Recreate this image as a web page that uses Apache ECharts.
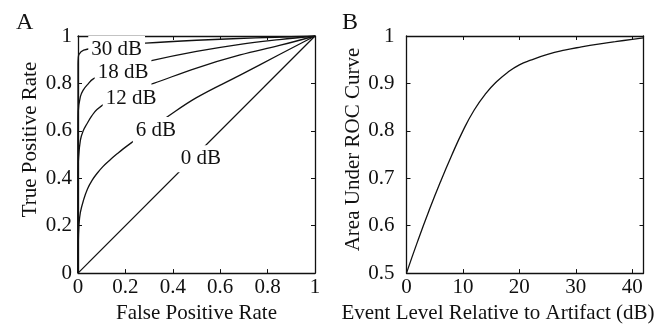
<!DOCTYPE html>
<html>
<head>
<meta charset="utf-8">
<script src="https://cdn.jsdelivr.net/npm/echarts@6/dist/echarts.min.js"></script>
<style>
  html, body { margin: 0; padding: 0; background: #fff; }
  #chart { width: 671px; height: 329px; }
</style>
</head>
<body>
<div id="chart"></div>
<script>
// ---------------------------------------------------------------------------
// Data
// ---------------------------------------------------------------------------

// Panel A: ROC curves, [false positive rate, true positive rate]
const roc0dB = [[0, 0], [1, 1]];
const roc6dB = [
  [0, 0], [0.001, 0.12], [0.004, 0.2], [0.01, 0.256], [0.024, 0.31],
  [0.04, 0.355], [0.06, 0.392], [0.08, 0.42], [0.105, 0.449], [0.136, 0.478],
  [0.165, 0.503], [0.192, 0.525], [0.25, 0.568], [0.31, 0.612],
  [0.368, 0.653], [0.5, 0.74], [0.684, 0.835], [0.85, 0.922], [1, 1],
];
const roc12dB = [
  [0, 0], [0, 0.4], [0.002, 0.48], [0.01, 0.56], [0.022, 0.6], [0.038, 0.63],
  [0.058, 0.663], [0.08, 0.69], [0.122, 0.72], [0.2, 0.76], [0.319, 0.8],
  [0.5, 0.865], [0.684, 0.92], [0.85, 0.96], [1, 1],
];
const roc18dB = [
  [0, 0], [0, 0.62], [0.001, 0.68], [0.01, 0.744], [0.022, 0.772],
  [0.038, 0.793], [0.066, 0.82], [0.15, 0.855], [0.305, 0.895], [0.5, 0.935],
  [0.684, 0.965], [0.85, 0.985], [1, 1],
];
const roc30dB = [
  [0, 0], [0, 0.88], [0.001, 0.905], [0.004, 0.922], [0.024, 0.94],
  [0.1, 0.955], [0.284, 0.97], [0.5, 0.982], [0.75, 0.992], [1, 1],
];

// inline curve labels and where they sit
const curveLabels = ["30 dB", "18 dB", "12 dB", "6 dB", "0 dB"];
const curveLabelAt = [
  [0.163, 0.943], [0.19, 0.846], [0.224, 0.737], [0.329, 0.601], [0.519, 0.482],
];

// Panel B: area under ROC curve vs event level (dB)
const eventLevel = [0, 2, 4, 6, 8, 10, 12, 14, 16, 18, 20, 22, 25, 28, 31, 34, 37, 40, 42];
const aucValues = [
  0.5, 0.568, 0.632, 0.692, 0.748, 0.8, 0.844, 0.878, 0.904, 0.924,
  0.939, 0.949, 0.961, 0.97, 0.977, 0.983, 0.988, 0.993, 0.996,
];

// ---------------------------------------------------------------------------
// Styles
// ---------------------------------------------------------------------------
const FONT = "Liberation Serif";
const INK = "#111";

const textStyle = { fontFamily: FONT, fontSize: 21, color: INK };

const baseAxis = (extra) => ({
  type: "value",
  axisLine: { show: true, onZero: false, lineStyle: { color: INK, width: 1.3 } },
  axisTick: { show: true, inside: true, length: 4, lineStyle: { color: INK, width: 1 } },
  splitLine: { show: false },
  ...extra,
});

const mirrorAxis = (extra) =>
  baseAxis({ axisLabel: { show: false }, ...extra });

const curve = (data) => ({
  type: "line",
  xAxisIndex: 0,
  yAxisIndex: 0,
  data,
  symbol: "none",
  smooth: 0.4,
  lineStyle: { color: INK, width: 1.3 },
  z: 2,
  silent: true,
});

const chart = echarts.init(document.getElementById("chart"), null, { renderer: "canvas" });

const option = {
  animation: false,
  backgroundColor: "#fff",
  title: [
    { text: "A", left: 11, top: 6, textStyle: { ...textStyle, fontSize: 24, fontWeight: "normal" } },
    { text: "B", left: 337, top: 6, textStyle: { ...textStyle, fontSize: 24, fontWeight: "normal" } },
  ],
  grid: [
    { left: 78, right: 356, top: 36, bottom: 55 },
    { left: 406.5, right: 27.5, top: 36, bottom: 55 },
  ],
  xAxis: [
    baseAxis({
      gridIndex: 0, min: 0, max: 1, interval: 0.2, position: "bottom",
      axisLabel: { ...textStyle, margin: 4 },
      name: "False Positive Rate", nameLocation: "middle", nameGap: 25,
      nameTextStyle: textStyle,
    }),
    mirrorAxis({ gridIndex: 0, min: 0, max: 1, interval: 0.2, position: "top" }),
    baseAxis({
      gridIndex: 1, min: 0, max: 42, interval: 10, position: "bottom",
      axisLabel: { ...textStyle, margin: 4, showMaxLabel: false },
      name: "Event Level Relative to Artifact (dB)", nameLocation: "middle", nameGap: 25,
      nameTextStyle: { ...textStyle, padding: [0, 54, 0, 0] },
    }),
    mirrorAxis({ gridIndex: 1, min: 0, max: 42, interval: 10, position: "top" }),
  ],
  yAxis: [
    baseAxis({
      gridIndex: 0, min: 0, max: 1, interval: 0.2, position: "left",
      axisLabel: { ...textStyle, margin: 6 },
      name: "True Positive Rate", nameLocation: "middle", nameGap: 37,
      nameTextStyle: { ...textStyle, padding: [0, 0, 0, 30] },
    }),
    mirrorAxis({ gridIndex: 0, min: 0, max: 1, interval: 0.2, position: "right" }),
    baseAxis({
      gridIndex: 1, min: 0.5, max: 1, interval: 0.1, position: "left",
      axisLabel: { ...textStyle, margin: 12 },
      name: "Area Under ROC Curve", nameLocation: "middle", nameGap: 25,
      nameTextStyle: { ...textStyle, padding: [0, 0, 0, 10] },
    }),
    mirrorAxis({ gridIndex: 1, min: 0.5, max: 1, interval: 0.1, position: "right" }),
  ],
  series: [
    curve(roc0dB),
    curve(roc6dB),
    curve(roc12dB),
    curve(roc18dB),
    curve(roc30dB),
    {
      type: "scatter",
      xAxisIndex: 0,
      yAxisIndex: 0,
      symbolSize: 0,
      z: 5,
      silent: true,
      itemStyle: { color: "#fff", opacity: 1 },
      data: curveLabels.map((name, i) => ({ name, value: curveLabelAt[i] })),
      label: {
        show: true,
        position: "inside",
        formatter: (p) => p.name,
        ...textStyle,
        opacity: 1,
        textBorderWidth: 0,
        textBorderColor: "transparent",
        backgroundColor: "#fff",
        padding: [3, 3],
      },
    },
    {
      type: "line",
      xAxisIndex: 2,
      yAxisIndex: 2,
      data: eventLevel.map((x, i) => [x, aucValues[i]]),
      symbol: "none",
      smooth: 0.5,
      lineStyle: { color: INK, width: 1.3 },
      silent: true,
    },
  ],
};

chart.setOption(option);
</script>
</body>
</html>
